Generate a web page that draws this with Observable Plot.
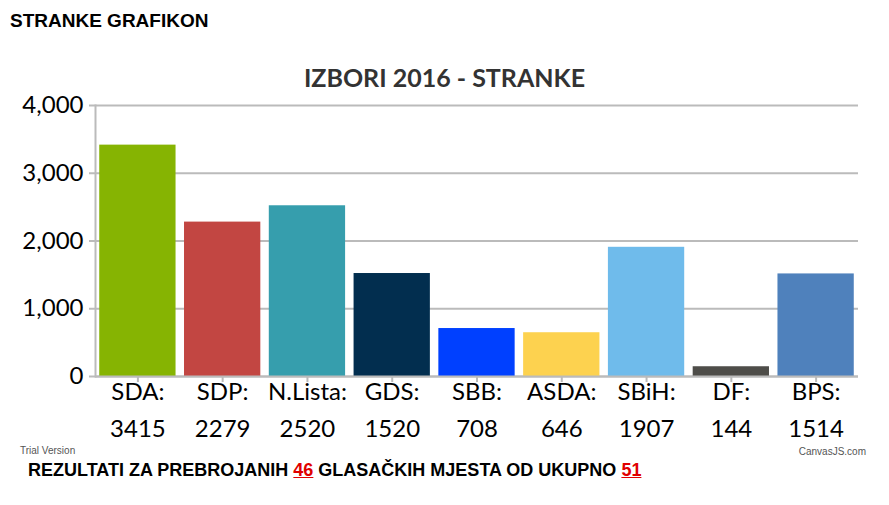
<!DOCTYPE html>
<html>
<head>
<meta charset="utf-8">
<script src="https://cdn.jsdelivr.net/npm/d3@7"></script>
<script src="https://cdn.jsdelivr.net/npm/@observablehq/plot@0.6"></script>
<style>
  html, body { margin: 0; padding: 0; background: #fff; }
  #wrap { position: relative; width: 889px; height: 505px; overflow: hidden; }
  #header { position: absolute; left: 10px; top: 10px; font: bold 19px "Liberation Sans", Arial, sans-serif; color: #000; }
  #title { position: absolute; left: 0; width: 889px; top: 62px; text-align: center; font: bold 25px Lato, "Open Sans", sans-serif; color: #333; }
  #chart { position: absolute; left: 0; top: 0; }
  #trial { position: absolute; left: 20px; top: 445px; font: 10px "Liberation Sans Narrow", "Liberation Sans", sans-serif; color: #555; }
  #canvasjs { position: absolute; right: 23px; top: 446px; font: 10px "Liberation Sans Narrow", "Liberation Sans", sans-serif; color: #555; }
  #footer { position: absolute; left: 28px; top: 460px; font: bold 18px "Liberation Sans Narrow", "Liberation Sans", Arial, sans-serif; color: #000; }
  #footer span { color: #e00000; text-decoration: underline; }
</style>
</head>
<body>
<div id="wrap">
  <div id="chart"></div>
  <div id="header">STRANKE GRAFIKON</div>
  <div id="title">IZBORI 2016 - STRANKE</div>
  <div id="trial">Trial Version</div>
  <div id="canvasjs">CanvasJS.com</div>
  <div id="footer"></div>
</div>
<script>
const parties = ["SDA", "SDP", "N.Lista", "GDS", "SBB", "ASDA", "SBiH", "DF", "BPS"];
const votes = [3415, 2279, 2520, 1520, 708, 646, 1907, 144, 1514];
const colors = ["#86b402", "#c24642", "#369ead", "#022e4f", "#0040ff", "#fdd24f", "#6fbbeb", "#4e4d49", "#4f81bc"];
const yTicks = [0, 1000, 2000, 3000, 4000];
const countedStations = 46;
const totalStations = 51;

const data = parties.map((p, i) => ({party: p, votes: votes[i], color: colors[i]}));
const voteOf = new Map(data.map(d => [d.party, d.votes]));

const chart = Plot.plot({
  width: 889,
  height: 460,
  marginTop: 105,
  marginBottom: 84,
  marginLeft: 95,
  marginRight: 31,
  style: {fontFamily: "Lato, 'Open Sans', sans-serif", color: "#000", background: "transparent"},
  x: {domain: parties, paddingInner: 0.1, paddingOuter: 0.05, round: false, label: null},
  y: {domain: [0, 4000], label: null},
  marks: [
    Plot.gridY(yTicks, {stroke: "#bbb", strokeOpacity: 1, strokeWidth: 2}),
    Plot.barY(data, {x: "party", y: "votes", fill: "color"}),
    Plot.frame({anchor: "left", stroke: "#bbb", strokeWidth: 2}),
    Plot.ruleY([0], {stroke: "#bbb", strokeWidth: 2}),
    Plot.axisY(yTicks, {
      tickFormat: d3.format(","), tickSize: 6, tickPadding: 6,
      stroke: "#bbb", strokeWidth: 2, fontSize: 24, fill: "#000", label: null
    }),
    Plot.axisX({tickSize: 6, stroke: "#bbb", strokeWidth: 2, text: null, label: null}),
    Plot.axisX({
      tickSize: 0, tickPadding: 0, dy: -3,
      fontSize: 24, fill: "#000", lineHeight: 1.55, label: null,
      tickFormat: p => `${p}:\n${voteOf.get(p)}`
    })
  ]
});
document.getElementById("chart").appendChild(chart);

document.getElementById("footer").innerHTML =
  `REZULTATI ZA PREBROJANIH <span>${countedStations}</span> GLASAČKIH MJESTA OD UKUPNO <span>${totalStations}</span>`;
</script>
</body>
</html>
